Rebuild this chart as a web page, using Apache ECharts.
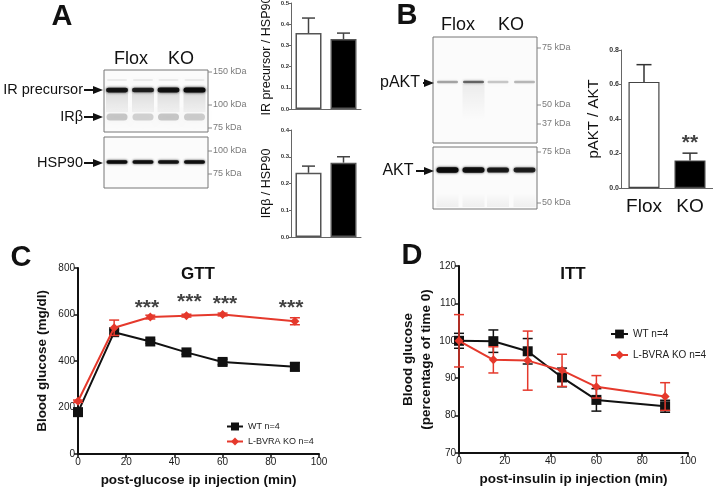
<!DOCTYPE html>
<html><head><meta charset="utf-8">
<script src="https://cdn.jsdelivr.net/npm/echarts@6/dist/echarts.min.js"></script>
<style>html,body{margin:0;padding:0;background:#fff}#c{width:713px;height:489px}</style>
</head><body><div id="c"></div>
<script>
// ---------- DATA ----------
// Panel A / B quantification (mean, SEM)
const barCats = ['Flox', 'KO'];
const irPrecursorMean = [0.358, 0.330];
const irPrecursorSem = [0.071, 0.028];
const irBetaMean = [0.240, 0.278];
const irBetaSem = [0.025, 0.022];
const pAktMean = [0.615, 0.160];
const pAktSem = [0.100, 0.042];
const pAktStars = [[1, 0.258]];
// Panel C: GTT
const timeC = [0, 15, 30, 45, 60, 90];
const gttWT = [180, 524, 484, 437, 396, 375];
const gttWTErr = [15, 10, 8, 8, 12, 18];
const gttKO = [227, 543, 589, 595, 600, 571];
const gttKOErr = [5, 33, 8, 6, 6, 15];
const gttStars = [[28.6, 628], [46.2, 654], [61, 644], [88.4, 628]];
// Panel D: ITT
const timeD = [0, 15, 30, 45, 60, 90];
const ittWT = [100.0, 99.9, 97.2, 90.2, 84.2, 82.5];
const ittWTErr = [2.0, 3.0, 3.4, 2.5, 3.0, 1.6];
const ittKO = [100.0, 94.9, 94.7, 92.1, 87.7, 85.1];
const ittKOErr = [7.0, 3.5, 7.9, 4.3, 3.0, 3.7];
// Western blot band intensities (0-1) per lane
const irPrecursorBands = [0.9, 0.82, 0.92, 1.0];
const irBetaBands = [0.2, 0.16, 0.2, 0.18];
const hsp90Bands = [0.97, 0.94, 0.9, 0.94];
const pAktBands = [0.32, 0.55, 0.2, 0.26];
const aktBands = [1.0, 0.93, 0.86, 0.82];
const seriesNames = ['WT n=4', 'L-BVRA KO n=4'];

// ---------- HELPERS ----------
const FF = 'Liberation Sans, Arial, Helvetica, sans-serif';
const RED = '#e5392c';

function pairs(xs, ys) { return xs.map((x, i) => [x, ys[i]]); }
function triples(xs, ys, es) { return xs.map((x, i) => [x, ys[i], es[i]]); }

function errRender(color, capHalf, upperOnly, lw) {
  return function (params, api) {
    const x = api.value(0), y = api.value(1), e = api.value(2);
    const c = api.coord([x, y]);
    const hi = api.coord([x, y + e]);
    const lo = upperOnly ? c : api.coord([x, y - e]);
    const st = { stroke: color, lineWidth: lw };
    const ch = [
      { type: 'line', shape: { x1: hi[0], y1: hi[1], x2: lo[0], y2: lo[1] }, style: st },
      { type: 'line', shape: { x1: hi[0] - capHalf, y1: hi[1], x2: hi[0] + capHalf, y2: hi[1] }, style: st }
    ];
    if (!upperOnly) ch.push({ type: 'line', shape: { x1: lo[0] - capHalf, y1: lo[1], x2: lo[0] + capHalf, y2: lo[1] }, style: st });
    return { type: 'group', children: ch };
  };
}

function txt(text, x, y, size, opts) {
  opts = opts || {};
  return {
    type: 'text', z: 10,
    style: {
      text: text, x: x, y: y, fontFamily: FF, fontSize: size,
      fontWeight: opts.bold ? 'bold' : 'normal', fill: opts.color || '#111',
      textAlign: opts.align || 'center', textVerticalAlign: 'middle', verticalAlign: 'middle'
    }
  };
}
function arrow(x1, x2, y) {
  return [
    { type: 'line', z: 10, shape: { x1: x1, y1: y, x2: x2 - 8, y2: y }, style: { stroke: '#111', lineWidth: 2 } },
    { type: 'polygon', z: 10, shape: { points: [[x2 - 10, y - 4], [x2, y], [x2 - 10, y + 4]] }, style: { fill: '#111' } }
  ];
}
function kda(xBox, y, label) {
  return [
    { type: 'line', z: 10, shape: { x1: xBox, y1: y, x2: xBox + 4, y2: y }, style: { stroke: '#888', lineWidth: 1 } },
    txt(label, xBox + 5, y, 9, { align: 'left', color: '#7a7a7a' })
  ];
}
function box(x, y, w, h) {
  return { type: 'rect', z: 5, shape: { x: x, y: y, width: w, height: h }, style: { fill: '#fbfbfb', stroke: '#777', lineWidth: 1 } };
}
function band(cx, cy, w, h, alpha, blur) {
  const col = 'rgba(10,10,10,' + alpha + ')';
  return { type: 'rect', z: 6, shape: { x: cx - w / 2, y: cy - h / 2, width: w, height: h, r: h / 2 },
    style: { fill: col, shadowBlur: blur, shadowColor: col } };
}
function smear(cx, y1, y2, w, a1, a2) {
  return { type: 'rect', z: 6, shape: { x: cx - w / 2, y: y1, width: w, height: y2 - y1 },
    style: { fill: new echarts.graphic.LinearGradient(0, 0, 0, 1, [
      { offset: 0, color: 'rgba(0,0,0,' + a1 + ')' }, { offset: 1, color: 'rgba(0,0,0,' + a2 + ')' }]) } };
}

// ---------- GRAPHICS (blots and labels) ----------
const g = [];
g.push(txt('A', 62, 17, 29, { bold: true }));
g.push(txt('B', 407, 16, 29, { bold: true }));
g.push(txt('C', 21, 258, 29, { bold: true }));
g.push(txt('D', 412, 256, 29, { bold: true }));
// Panel A blots
g.push(txt('Flox', 131, 59, 18), txt('KO', 181, 59, 18));
g.push(box(104, 70, 104, 62), box(104, 137, 104, 51));
const lanesA = [117, 143, 168.5, 194.5];
lanesA.forEach((cx, i) => {
  g.push(band(cx, 80, 20, 1.5, 0.08, 2));
  g.push(smear(cx, 91, 112, 22, 0.13, 0.04));
  g.push(band(cx, 117, 21, 7, irBetaBands[i], 6));
  g.push(band(cx, 90, 22, 2.5 + 2.5 * irPrecursorBands[i], irPrecursorBands[i], 3));
  g.push(band(cx, 162, 21, 3.5, hsp90Bands[i], 2.5));
});
g.push(txt('IR precursor', 83, 90, 14.5, { align: 'right' }), ...arrow(84, 103, 90));
g.push(txt('IRβ', 83, 117, 14.5, { align: 'right' }), ...arrow(84, 103, 117));
g.push(txt('HSP90', 83, 163, 14.5, { align: 'right' }), ...arrow(84, 103, 163));
g.push(...kda(208, 72, '150 kDa'), ...kda(208, 105, '100 kDa'), ...kda(208, 128, '75 kDa'));
g.push(...kda(208, 151, '100 kDa'), ...kda(208, 174, '75 kDa'));
// Panel B blots
g.push(txt('Flox', 458, 25, 18), txt('KO', 511, 25, 18));
g.push(box(433, 37, 104, 106), box(433, 147, 104, 62));
const lanesB = [447.5, 473.5, 498, 524.5];
lanesB.forEach((cx, i) => {
  g.push(band(cx, 82, 21, 2.5, pAktBands[i], 3));
  g.push(band(cx, 170, 22, 2.5 + 3 * aktBands[i], aktBands[i], 2.5));
  g.push(smear(cx, 193, 207, 22, 0.0, 0.05));
});
g.push(smear(473.5, 84, 120, 22, 0.06, 0.0));
g.push(txt('pAKT', 400, 83, 16, { }), ...arrow(423, 434, 83));
g.push(txt('AKT', 398, 171, 16, { }), ...arrow(416, 434, 171));
g.push(...kda(537, 48, '75 kDa'), ...kda(537, 105, '50 kDa'), ...kda(537, 124, '37 kDa'));
g.push(...kda(537, 152, '75 kDa'), ...kda(537, 203, '50 kDa'));
// titles
g.push(txt('GTT', 198, 274, 17, { bold: true }));
g.push(txt('ITT', 573, 274, 17, { bold: true }));

// ---------- AXES ----------
const smallBarY = (gi, max, name, gap, nameSize, lblSize) => ({
  gridIndex: gi, type: 'value', min: 0, max: max, interval: max === 0.8 ? 0.2 : 0.1,
  axisLine: { show: true, lineStyle: { color: '#666', width: 1 } },
  axisTick: { show: true, length: 2, lineStyle: { color: '#666' } },
  axisLabel: { fontSize: lblSize, fontWeight: 'bold', color: '#333', margin: 2, fontFamily: FF, formatter: v => v.toFixed(1) },
  splitLine: { show: false },
  name: name, nameLocation: 'middle', nameGap: gap,
  nameTextStyle: { fontSize: nameSize, color: '#111', fontFamily: FF }
});
const barX = (gi, showLbl) => ({
  gridIndex: gi, type: 'category', data: barCats,
  axisLine: { show: true, lineStyle: { color: '#666', width: 1 } },
  axisTick: { show: false },
  axisLabel: { show: showLbl, interval: 0, fontSize: 19, color: '#111', margin: 9, fontFamily: FF, hideOverlap: false },
  splitLine: { show: false }
});
const lineX = (gi, name) => ({
  gridIndex: gi, type: 'value', min: 0, max: 100, interval: 20,
  axisLine: { show: true, onZero: false, lineStyle: { color: '#111', width: 2 } },
  axisTick: { show: true, length: 4, lineStyle: { color: '#111', width: 1.5 } },
  axisLabel: { fontSize: 10, color: '#1a1a1a', margin: 3, fontFamily: FF },
  splitLine: { show: false },
  name: name, nameLocation: 'middle', nameGap: 19,
  nameTextStyle: { fontSize: 13.5, fontWeight: 'bold', color: '#111', fontFamily: FF }
});
const lineY = (gi, min, max, iv, name, gap, lh) => ({
  gridIndex: gi, type: 'value', min: min, max: max, interval: iv,
  axisLine: { show: true, onZero: false, lineStyle: { color: '#111', width: 2 } },
  axisTick: { show: true, length: 4, lineStyle: { color: '#111', width: 1.5 } },
  axisLabel: { fontSize: 10, color: '#1a1a1a', margin: 3, fontFamily: FF },
  splitLine: { show: false },
  name: name, nameLocation: 'middle', nameGap: gap,
  nameTextStyle: { fontSize: 13.5, fontWeight: 'bold', color: '#111', fontFamily: FF, lineHeight: lh }
});

const barColors = ['#ffffff', '#000000'];
const barData = arr => arr.map((v, i) => ({ value: v, itemStyle: { color: barColors[i] } }));

const option = {
  animation: false,
  textStyle: { fontFamily: FF },
  grid: [
    { left: 291, top: 3, width: 70, height: 106, outerBoundsMode: 'none', containLabel: false },
    { left: 291, top: 130, width: 70, height: 107, outerBoundsMode: 'none', containLabel: false },
    { left: 621, top: 50, width: 92, height: 138, outerBoundsMode: 'none', containLabel: false },
    { left: 78, top: 268, width: 241, height: 186, outerBoundsMode: 'none', containLabel: false },
    { left: 459, top: 266, width: 229, height: 187, outerBoundsMode: 'none', containLabel: false }
  ],
  xAxis: [barX(0, false), barX(1, false), barX(2, true),
    lineX(3, 'post-glucose ip injection (min)'), lineX(4, 'post-insulin ip injection (min)')],
  yAxis: [
    smallBarY(0, 0.5, 'IR precursor / HSP90', 18, 12.5, 6),
    smallBarY(1, 0.4, 'IRβ / HSP90', 18, 12.5, 6),
    smallBarY(2, 0.8, 'pAKT / AKT', 20, 15, 7),
    lineY(3, 0, 800, 200, 'Blood glucose (mg/dl)', 28, 16),
    lineY(4, 70, 120, 10, 'Blood glucose\n(percentage of time 0)', 23, 18)
  ],
  legend: [
    { data: seriesNames, orient: 'vertical', left: 221, top: 417, itemWidth: 16, itemHeight: 10, itemGap: 6,
      textStyle: { fontSize: 9, color: '#222', fontFamily: FF }, selectedMode: false },
    { data: seriesNames, orient: 'vertical', left: 605, top: 324, itemWidth: 17, itemHeight: 11, itemGap: 11,
      textStyle: { fontSize: 10, color: '#222', fontFamily: FF }, selectedMode: false }
  ],
  series: [
    // Panel A top
    { type: 'bar', xAxisIndex: 0, yAxisIndex: 0, barWidth: 26, data: barData(irPrecursorMean),
      itemStyle: { borderColor: '#555', borderWidth: 1.5 }, z: 2 },
    { type: 'custom', xAxisIndex: 0, yAxisIndex: 0, data: triples([0, 1], irPrecursorMean, irPrecursorSem),
      renderItem: errRender('#444', 6.5, true, 1.5), z: 3 },
    // Panel A bottom
    { type: 'bar', xAxisIndex: 1, yAxisIndex: 1, barWidth: 26, data: barData(irBetaMean),
      itemStyle: { borderColor: '#555', borderWidth: 1.5 }, z: 2 },
    { type: 'custom', xAxisIndex: 1, yAxisIndex: 1, data: triples([0, 1], irBetaMean, irBetaSem),
      renderItem: errRender('#444', 6.5, true, 1.5), z: 3 },
    // Panel B
    { type: 'bar', xAxisIndex: 2, yAxisIndex: 2, barWidth: 31, data: barData(pAktMean),
      itemStyle: { borderColor: '#444', borderWidth: 1.2 }, z: 2 },
    { type: 'custom', xAxisIndex: 2, yAxisIndex: 2, data: triples([0, 1], pAktMean, pAktSem),
      renderItem: errRender('#333', 7.5, true, 1.5), z: 3 },
    { type: 'scatter', xAxisIndex: 2, yAxisIndex: 2, data: pAktStars, symbolSize: 1,
      itemStyle: { color: 'rgba(0,0,0,0)' },
      label: { show: true, position: 'inside', formatter: '**', fontSize: 21, fontWeight: 'bold', color: '#111', fontFamily: FF } },
    // Panel C
    { type: 'custom', xAxisIndex: 3, yAxisIndex: 3, data: triples(timeC, gttWT, gttWTErr),
      renderItem: errRender('#444', 5, false, 1.5), z: 1 },
    { type: 'custom', xAxisIndex: 3, yAxisIndex: 3, data: triples(timeC, gttKO, gttKOErr),
      renderItem: errRender(RED, 5, false, 1.5), z: 4 },
    { name: seriesNames[0], type: 'line', xAxisIndex: 3, yAxisIndex: 3, data: pairs(timeC, gttWT),
      symbol: 'rect', symbolSize: 10, color: '#111', itemStyle: { color: '#111' },
      lineStyle: { color: '#111', width: 2 }, z: 2 },
    { name: seriesNames[1], type: 'line', xAxisIndex: 3, yAxisIndex: 3, data: pairs(timeC, gttKO),
      symbol: 'diamond', symbolSize: 9, color: RED, itemStyle: { color: RED },
      lineStyle: { color: RED, width: 2 }, z: 3 },
    { type: 'scatter', xAxisIndex: 3, yAxisIndex: 3, data: gttStars, symbolSize: 1,
      itemStyle: { color: 'rgba(0,0,0,0)' },
      label: { show: true, position: 'inside', formatter: '***', fontSize: 21, fontWeight: 'bold', color: '#111', fontFamily: FF } },
    // Panel D
    { type: 'custom', xAxisIndex: 4, yAxisIndex: 4, data: triples(timeD, ittWT, ittWTErr),
      renderItem: errRender('#111', 5, false, 1.5), z: 1 },
    { type: 'custom', xAxisIndex: 4, yAxisIndex: 4, data: triples(timeD, ittKO, ittKOErr),
      renderItem: errRender(RED, 5, false, 1.5), z: 4 },
    { name: seriesNames[0], type: 'line', xAxisIndex: 4, yAxisIndex: 4, data: pairs(timeD, ittWT),
      symbol: 'rect', symbolSize: 10, color: '#111', itemStyle: { color: '#111' },
      lineStyle: { color: '#111', width: 2 }, z: 2 },
    { name: seriesNames[1], type: 'line', xAxisIndex: 4, yAxisIndex: 4, data: pairs(timeD, ittKO),
      symbol: 'diamond', symbolSize: 9, color: RED, itemStyle: { color: RED },
      lineStyle: { color: RED, width: 2 }, z: 3 }
  ],
  graphic: g
};
const chart = echarts.init(document.getElementById('c'));
chart.setOption(option);
</script>
</body></html>
